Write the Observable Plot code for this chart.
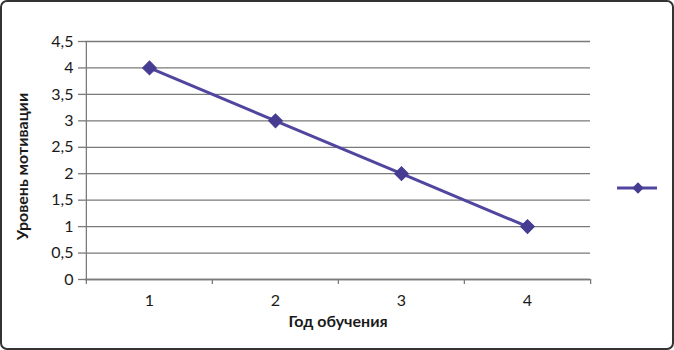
<!DOCTYPE html>
<html>
<head>
<meta charset="utf-8">
<script src="https://cdn.jsdelivr.net/npm/d3@7"></script>
<script src="https://cdn.jsdelivr.net/npm/@observablehq/plot@0.6"></script>
<style>
  html, body { margin: 0; padding: 0; background: #fff; }
  #wrap { position: relative; width: 674px; height: 350px; overflow: hidden; font-family: Lato, "Open Sans", sans-serif; }
  #wrap svg.plot { position: absolute; left: 0; top: 0; }
  #border { position: absolute; left: 0; top: 0; width: 674px; height: 350px; box-sizing: border-box; border: 2px solid #333; border-radius: 7px; pointer-events: none; }
  #legend { position: absolute; left: 613px; top: 180px; }
</style>
</head>
<body>
<div id="wrap"><div id="border"></div></div>
<script>
const years = [1, 2, 3, 4];
const motivation = [4, 3, 2, 1];
const yTicks = [0, 0.5, 1, 1.5, 2, 2.5, 3, 3.5, 4, 4.5];
const xTitle = "Год обучения";
const yTitle = "Уровень мотивации";

const data = years.map((y, i) => ({year: y, value: motivation[i]}));

const W = 674, H = 350, mL = 85, mR = 84, mT = 41, mB = 71;
const step = (W - mL - mR) / years.length;
const lineColor = "#5046a0";
const markColor = "#463c91";
const axisColor = "#7a7a7a";
const fmt = d => String(d).replace(".", ",");

const chart = Plot.plot({
  width: W, height: H,
  marginLeft: mL, marginRight: mR, marginTop: mT, marginBottom: mB,
  style: {fontFamily: "Lato, 'Open Sans', sans-serif", background: "transparent", color: "#1a1a1a"},
  x: {type: "point", domain: years, padding: 0.5, axis: null},
  y: {domain: [0, 4.5], axis: null},
  marks: [
    Plot.gridY(yTicks, {stroke: axisColor, strokeOpacity: 1, strokeWidth: 1.3}),
    Plot.axisY(yTicks, {tickSize: 7, tickPadding: 5, stroke: axisColor, strokeWidth: 1.3, fontSize: 16, tickFormat: fmt, label: null}),
    Plot.ruleX([years[0]], {dx: -step / 2, stroke: axisColor, strokeWidth: 1.3}),
    Plot.ruleY([0], {stroke: axisColor, strokeWidth: 1.3}),
    Plot.axisX(years, {dx: -step / 2, tickSize: 5, text: null, stroke: axisColor, strokeWidth: 1.3, label: null}),
    Plot.axisX([years[years.length - 1]], {dx: step / 2, tickSize: 5, text: null, stroke: axisColor, strokeWidth: 1.3, label: null}),
    Plot.axisX(years, {tickSize: 0, tickPadding: 15, fontSize: 16, label: null}),
    Plot.line(data, {x: "year", y: "value", stroke: lineColor, strokeWidth: 3}),
    Plot.dot(data, {x: "year", y: "value", symbol: "square", r: 5.5, rotate: 45, fill: markColor, stroke: markColor, strokeWidth: 1}),
    Plot.text([xTitle], {frameAnchor: "bottom", textAnchor: "middle", dy: 47, fontSize: 16, fontWeight: "bold", fill: "#1a1a1a"}),
    Plot.text([yTitle], {frameAnchor: "left", textAnchor: "middle", dx: -63, dy: 6, rotate: -90, fontSize: 16, fontWeight: "bold", fill: "#1a1a1a"})
  ]
});
chart.classList.add("plot");
document.getElementById("wrap").prepend(chart);

const lg = d3.select("#wrap").append("svg").attr("id", "legend");
lg.attr("width", 50).attr("height", 16);
lg.append("line").attr("x1", 4).attr("x2", 44).attr("y1", 8).attr("y2", 8).attr("stroke", lineColor).attr("stroke-width", 3);
lg.append("path").attr("d", d3.symbol(d3.symbolSquare, 64)()).attr("transform", "translate(25,8) rotate(45)").attr("fill", markColor);
</script>
</body>
</html>
